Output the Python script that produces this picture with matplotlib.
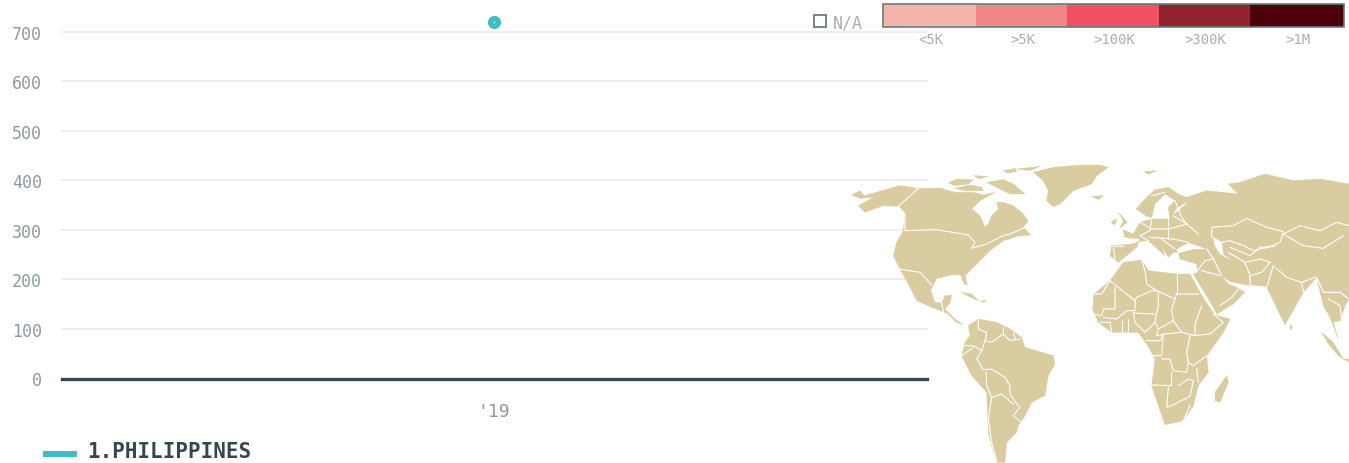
import matplotlib
matplotlib.use('Agg')
import matplotlib.pyplot as plt
from matplotlib.patches import Polygon, Rectangle

# --- chart data ---
years = [2019]
philippines = [719]
y_ticks = [0, 100, 200, 300, 400, 500, 600, 700]
x_tick_labels = ["'19"]
series_name = "1.PHILIPPINES"

bin_labels = ["<5K", ">5K", ">100K", ">300K", ">1M"]
bin_colors = ["#F5B5AC", "#F28789", "#F25164", "#93222F", "#4D000A"]
bin_edges = [883, 976, 1067, 1159, 1250, 1344]

C_MAP = "#D9CCA0"
C_TEAL = "#40BDBF"
C_DARK = "#37474F"
C_GRID = "#ECEEEF"
C_TICK = "#8F9A9F"
C_LEGEND = "#A9AFB3"
C_EDGE = "#6B7B83"
FONT = "DejaVu Sans Mono"

# map outlines, traced by hand
land = [
    # north america
    [(35,108),(60,95),(72,110),(115,98),(180,80),(235,88),(300,87),(345,100),(400,100),(430,108),(465,100),(420,125),(395,150),(420,170),
     (435,205),(445,195),(455,170),(475,150),(470,130),(490,130),(520,140),(545,160),(565,185),(550,205),
     (572,228),(530,232),(510,240),(490,245),(450,275),(430,295),(390,335),(375,350),(382,378),(372,375),(362,348),(335,348),(290,358),
     (272,395),(285,430),(305,432),(315,410),(335,408),(330,432),(315,450),(345,480),(370,497),(350,490),(320,462),(275,445),(230,425),
     (205,375),(180,330),(160,290),(170,250),(190,215),(195,165),(175,142),(130,140),(75,160),(55,140),(100,115),(60,118)],
    # arctic islands
    [(325,72),(350,60),(400,62),(385,75),(345,80)],
    [(345,88),(390,78),(425,85),(430,95),(380,96)],
    [(440,70),(490,62),(520,75),(555,105),(510,105),(470,85)],
    [(490,35),(525,28),(530,38),(500,42)],
    [(400,50),(445,52),(420,60)],
    [(530,30),(600,22),(570,35)],
    # greenland, iceland, svalbard
    [(580,40),(640,25),(720,18),(780,18),(805,25),(770,50),(755,75),(700,95),(660,135),(640,143),(620,125),(625,95),(610,65)],
    [(755,112),(790,110),(775,122)],
    [(912,38),(950,35),(925,46)],
    # cuba, hispaniola
    [(365,400),(395,405),(415,425),(385,412)],
    [(422,425),(440,425),(430,430)],
    # south america
    [(385,500),(415,480),(470,490),(510,510),(545,535),(555,565),(640,590),(645,615),(625,650),(615,710),(575,730),(555,770),(535,800),
     (530,820),(500,850),(495,910),(470,910),(455,860),(445,820),(440,700),(395,650),(365,590),(375,550),(390,530)],
    # africa
    [(850,310),(905,303),(925,335),(1010,345),(1050,345),(1080,400),(1115,455),(1125,468),(1170,480),(1150,520),(1115,570),(1100,590),(1105,640),
     (1075,680),(1060,740),(1030,785),(975,797),(955,740),(935,680),(945,600),(920,555),(895,520),(815,520),(775,490),(758,450),(762,405),(810,365)],
    [(1125,700),(1160,650),(1165,670),(1140,730),(1125,725)],
    # uk, ireland
    [(835,160),(862,190),(840,207),(850,185)],
    [(812,190),(830,180),(825,198)],
    # eurasia
    [(1527,75),(1440,60),(1360,65),(1275,45),(1200,70),(1165,75),(1195,105),(1100,95),(1040,115),(1015,105),(985,85),(945,92),(915,120),
     (888,150),(920,172),(935,175),(945,135),(975,105),(1005,125),(985,145),(990,180),(935,180),(900,190),(880,225),(848,212),(855,235),(900,240),
     (890,265),(860,290),(835,310),(810,290),(815,260),(875,255),(900,247),(925,245),(975,290),(965,262),(985,295),(1000,280),(1015,280),
     (1020,300),(1070,315),(1072,340),(1060,345),(1120,445),(1130,465),(1180,435),(1215,400),(1190,385),(1165,375),(1145,350),(1170,368),(1230,380),
     (1280,385),(1335,497),(1345,480),(1390,400),(1430,355),(1450,440),(1470,475),(1495,540),(1480,490),(1500,485),(1515,440),(1527,420)],
    # sri lanka, sumatra, java
    [(1350,495),(1358,505),(1352,513)],
    [(1445,520),(1480,550),(1510,600),(1495,590),(1465,555)],
    [(1510,600),(1527,600),(1527,608)],
]
# seas sitting inside the land outline
seas = [
    [(1010,272),(1045,252),(1075,262),(1095,270),(1060,270),(1015,282)],
    [(1120,235),(1145,250),(1150,288),(1170,300),(1140,285),(1125,260)],
    [(1040,130),(1010,150),(1000,165),(1020,150)],
]
borders = [
    [(235,88),(175,142),(195,165),(195,215),(290,212),(385,228),(405,250),(395,268),(440,255),(490,230),(510,225),(555,205)],
    [(178,330),(240,340),(270,372),(275,378)],
    [(305,432),(310,458)],[(330,450),(350,465)],
    # south america
    [(415,480),(415,510),(440,520),(435,545),(455,550),(490,525),(510,545),(540,540)],
    [(490,505),(490,525)],[(520,520),(525,540)],
    [(370,560),(400,560),(425,575),(435,545)],[(365,590),(400,565)],
    [(425,575),(410,600),(430,632),(455,630),(495,655),(510,680),(510,705),(530,735),(540,745),(520,770),(550,795)],
    [(438,640),(440,680),(455,715),(485,705),(520,735)],
    [(455,715),(445,780),(455,850),(470,905)],
    # africa
    [(905,303),(915,335),(920,375),(950,395),(1005,420),(1010,405),(1075,405)],
    [(1010,345),(1010,405)],
    [(810,365),(885,425),(890,415),(935,395),(950,395)],
    [(762,405),(785,405),(808,368)],
    [(825,385),(825,450),(790,450),(785,470),(760,465)],
    [(885,425),(885,455),(860,455),(830,480),(790,475)],
    [(955,400),(955,440),(945,490),(955,510),(1000,485),(995,450),(1005,420)],
    [(945,465),(880,462),(885,490),(915,520),(945,490)],
    [(780,490),(810,490),(815,520)],[(845,485),(845,520)],[(865,480),(865,515)],
    [(1000,485),(1025,520),(1065,530),(1110,525),(1150,490),(1120,465)],
    [(1065,530),(1065,495),(1085,440)],
    [(955,510),(950,530),(975,525),(1025,520)],
    [(920,545),(960,545),(970,525),(965,590),(940,590)],
    [(1050,530),(1040,580),(1045,610),(1060,620),(1100,590)],
    [(965,600),(990,600),(1000,635),(1040,640),(1045,610)],
    [(935,678),(995,680),(995,640)],
    [(985,685),(980,745),(1005,735),(1050,712),(1060,665)],
    [(1015,680),(1045,660),(1060,665)],[(1070,630),(1075,670)],[(1050,740),(1030,785)],
    # europe
    [(900,190),(935,210),(985,210),(1040,195),(1075,225)],
    [(935,180),(930,215),(900,230),(925,245)],[(985,180),(985,240)],
    [(930,235),(1000,240),(1045,250)],[(965,240),(1005,270)],[(1000,170),(1040,195)],
    [(1005,125),(1025,175),(1040,195)],[(935,110),(975,100)],
    [(850,262),(820,262),(825,300)],
    # middle east, central asia
    [(1072,335),(1095,305),(1120,300)],[(1085,335),(1140,350)],[(1140,440),(1175,415),(1195,390)],
    [(1100,270),(1120,300),(1145,350)],[(1215,310),(1230,350),(1230,380)],
    [(1165,280),(1215,310),(1260,300),(1290,310)],
    [(1230,350),(1265,340),(1290,310)],[(1235,380),(1280,385),(1300,320)],
    [(1115,235),(1115,205),(1180,200),(1220,178),(1280,205),(1330,218),(1320,250),(1285,265),(1240,275),(1210,260),(1170,245),(1145,250)],
    [(1170,265),(1230,290),(1260,265),(1305,262)],
    [(1330,225),(1380,200),(1440,215),(1490,190),(1527,200)],
    [(1330,225),(1390,260),(1450,268),(1510,230)],
    [(1300,320),(1340,355),(1385,370),(1425,355)],[(1385,370),(1390,400)],
    [(1430,355),(1450,400),(1500,400),(1527,420)],[(1465,420),(1500,440),(1505,480)],
]

fig = plt.figure(figsize=(13.49, 4.64), dpi=100, facecolor='white')
W, H = 1349.0, 464.0

# chart axes, pixel box 61..927 x 32..379
ax = fig.add_axes([61.5 / W, 1 - 379.5 / H, (927 - 61) / W, (379 - 32) / H])
ax.set_xlim(years[0] - 1, years[0] + 1.004)
ax.set_ylim(0, 700)
for s in ax.spines.values():
    s.set_visible(False)
ax.set_yticks(y_ticks)
ax.set_xticks(years)
ax.set_xticklabels(x_tick_labels)
ax.tick_params(axis='both', length=0, labelcolor=C_TICK, labelsize=13)
ax.tick_params(axis='y', pad=14, labelsize=12)
ax.tick_params(axis='x', pad=17)
for lab in ax.get_xticklabels() + ax.get_yticklabels():
    lab.set_family(FONT)
ax.grid(axis='y', color=C_GRID, lw=1.4, clip_on=False)
ax.set_axisbelow(True)
ax.axhline(0, color=C_DARK, lw=2.4, clip_on=False, zorder=3)
ax.plot(years, philippines, 'o', color=C_TEAL, ms=9.5, mew=0, clip_on=False, zorder=4)
ax.plot(years, philippines, 'o', color='white', ms=1.2, mew=0, clip_on=False, zorder=5)

# overlay in pixel coordinates for map and legends
ov = fig.add_axes([0, 0, 1, 1], facecolor='none')
ov.set_xlim(0, W)
ov.set_ylim(H, 0)
ov.axis('off')


def to_px(pts):
    return [(840 + x / 3.0, 160 + y / 3.0) for x, y in pts]


for shape in land:
    ov.add_patch(Polygon(to_px(shape), closed=True, fc=C_MAP, ec=C_MAP, lw=0.3, zorder=2))
for shape in seas:
    ov.add_patch(Polygon(to_px(shape), closed=True, fc='white', ec='white', lw=0.3, zorder=2.5))
for line in borders:
    px = to_px(line)
    ov.plot([p[0] for p in px], [p[1] for p in px], color='white', lw=0.8, zorder=3, solid_joinstyle='round')

# colour legend
for i, c in enumerate(bin_colors):
    ov.add_patch(Rectangle((bin_edges[i], 4.5), bin_edges[i + 1] - bin_edges[i], 23, fc=c, ec='none', zorder=4))
    ov.text((bin_edges[i] + bin_edges[i + 1]) / 2 + 1, 40, bin_labels[i], ha='center', va='center',
            family=FONT, fontsize=10, color=C_LEGEND)
ov.add_patch(Rectangle((bin_edges[0], 4.5), bin_edges[-1] - bin_edges[0], 23, fc='none', ec=C_EDGE, lw=1.2, zorder=5))

# n/a box
ov.add_patch(Rectangle((814, 15.5), 12, 12, fc='white', ec=C_EDGE, lw=1.3, zorder=4))
ov.text(833, 23, "N/A", ha='left', va='center', family=FONT, fontsize=12, color=C_LEGEND)

# series legend
ov.plot([43, 77], [454.5, 454.5], color=C_TEAL, lw=4.3, solid_capstyle='butt')
ov.text(87, 452.5, series_name, ha='left', va='center', family=FONT, fontsize=15, fontweight='bold', color=C_DARK)

fig.savefig('out.png', dpi=100)
